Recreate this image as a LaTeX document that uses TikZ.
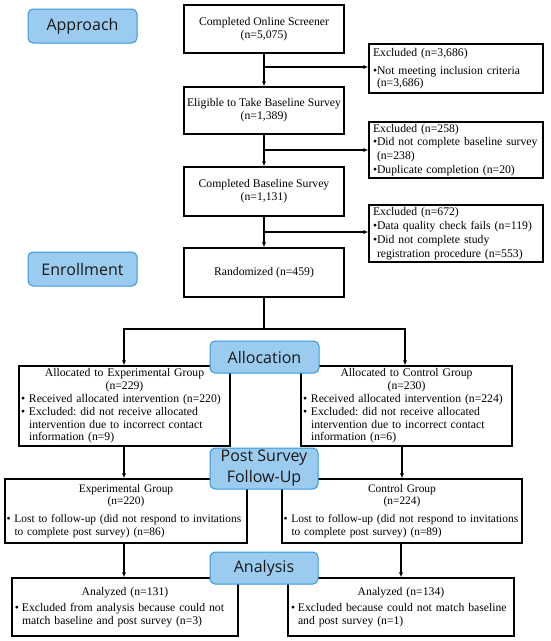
\documentclass[tikz,border=0pt]{standalone}
\usepackage{fontspec}
\setmainfont{Liberation Serif}
\newfontfamily\hdrfont{Open Sans}
\usetikzlibrary{arrows.meta}
\definecolor{hdrfill}{RGB}{155,204,239}
\definecolor{hdrline}{RGB}{52,152,219}
\tikzset{
  box/.style={draw=black, line width=1.1pt, rectangle, inner sep=0pt, font=\frenchspacing\fontsize{11.7}{12.8}\selectfont},
  exbox/.style={box, font=\frenchspacing\fontsize{11.7}{13.8}\selectfont},
  postbox/.style={box, font=\frenchspacing\fontsize{11.4}{12.2}\selectfont},
  hdr/.style={draw=hdrline, fill=hdrfill, line width=1pt, rounded corners=5pt, inner sep=0pt,
    minimum width=109pt, align=center, font=\hdrfont\fontsize{16}{21}\selectfont, text=black!90},
  arr/.style={line width=1.1pt, -{Latex[length=5pt,width=4pt]}},
  ln/.style={line width=1.1pt}
}
\newcommand{\bul}[1]{\makebox[#1][l]{\textbullet}}
\newcommand{\ctr}[1]{\makebox[\linewidth][c]{#1}}
\begin{document}
\begin{tikzpicture}[x=1pt,y=-1pt]
\useasboundingbox (0,0) rectangle (550,641);

% main column
\node[box, minimum width=160pt, minimum height=48pt, align=center] (b1) at (264,29) {Completed Online Screener\\(n=5,075)};
\node[box, minimum width=160pt, minimum height=47pt, align=center] (b2) at (264,110.5) {Eligible to Take Baseline Survey\\(n=1,389)};
\node[box, minimum width=160pt, minimum height=49pt, align=center] (b3) at (264,191.5) {Completed Baseline Survey\\(n=1,131)};
\node[box, minimum width=160pt, minimum height=49pt, align=center] (b4) at (264,272.5) {Randomized (n=459)};

% exclusion boxes
\node[exbox, minimum width=174pt, minimum height=49pt, text width=166pt, align=left] (e1) at (456,68.5)
  {Excluded (n=3,686)\\[4pt]\bul{4pt}Not meeting inclusion criteria\\[-2pt]\hspace*{4pt}(n=3,686)};
\node[exbox, minimum width=174pt, minimum height=56pt, text width=166pt, align=left] (e2) at (456,150)
  {Excluded (n=258)\\\bul{4pt}Did not complete baseline survey\\\hspace*{4pt}(n=238)\\\bul{4pt}Duplicate completion (n=20)};
\node[exbox, minimum width=174pt, minimum height=57pt, text width=166pt, align=left] (e3) at (456,233.5)
  {Excluded (n=672)\\\bul{4pt}Data quality check fails (n=119)\\\bul{4pt}Did not complete study\\\hspace*{4pt}registration procedure (n=553)};

% allocation boxes
\node[box, minimum width=211pt, minimum height=80pt, text width=207pt, align=left] (aE) at (124.5,406)
  {\ctr{Allocated to Experimental Group}\\\ctr{(n=229)}\\
   \bul{8pt}Received allocated intervention (n=220)\\
   \bul{8pt}Excluded: did not receive allocated\\
   \hspace*{8pt}intervention due to incorrect contact\\
   \hspace*{8pt}information (n=9)};
\node[box, minimum width=211pt, minimum height=80pt, text width=207pt, align=left] (aC) at (406.5,406)
  {\ctr{Allocated to Control Group}\\\ctr{(n=230)}\\
   \bul{8pt}Received allocated intervention (n=224)\\
   \bul{8pt}Excluded: did not receive allocated\\
   \hspace*{8pt}intervention due to incorrect contact\\
   \hspace*{8pt}information (n=6)};

% post survey boxes
\node[postbox, minimum width=242pt, minimum height=64pt, text width=239pt, align=left] (pE) at (126,511)
  {\ctr{Experimental Group}\\\ctr{(n=220)}\\[6pt]
   \mbox{\bul{8pt}Lost to follow-up (did not respond to invitations}\\
   \hspace*{8pt}to complete post survey) (n=86)};
\node[postbox, minimum width=240pt, minimum height=64pt, text width=237pt, align=left] (pC) at (402,511)
  {\ctr{Control Group}\\\ctr{(n=224)}\\[6pt]
   \mbox{\bul{8pt}Lost to follow-up (did not respond to invitations}\\
   \hspace*{8pt}to complete post survey) (n=89)};

% analysis boxes
\node[box, minimum width=226pt, minimum height=58pt, text width=220pt, align=left] (nE) at (125,607)
  {\ctr{Analyzed (n=131)}\\[4pt]
   \bul{7pt}Excluded from analysis because could not\\
   \hspace*{7pt}match baseline and post survey (n=3)};
\node[box, minimum width=226pt, minimum height=58pt, text width=220pt, align=left] (nC) at (401,607)
  {\ctr{Analyzed (n=134)}\\[4pt]
   \bul{7pt}Excluded because could not match baseline\\
   \hspace*{7pt}and post survey (n=1)};

% headers
\node[hdr, minimum height=34pt] (hA) at (82.5,26) {Approach};
\node[hdr, minimum height=34pt] (hE) at (82.5,269) {Enrollment};
\node[hdr, minimum height=32pt] (hL) at (264.5,357) {Allocation};
\node[hdr, minimum height=41pt, minimum width=108pt] (hP) at (264,468.5) {Post Survey\\Follow-Up};
\node[hdr, minimum height=32pt, minimum width=108pt] (hN) at (264,568) {Analysis};

% connectors main column
\draw[arr] (b1) -- (b2);
\draw[arr] (b2) -- (b3);
\draw[arr] (b3) -- (b4);
\coordinate (s1) at (264,67);
\coordinate (s2) at (264,150);
\coordinate (s3) at (264,232);
\draw[arr] (s1) -- (s1 -| e1.west);
\draw[arr] (s2) -- (s2 -| e2.west);
\draw[arr] (s3) -- (s3 -| e3.west);

% split to allocation
\coordinate (sp) at (264,329);
\coordinate (spE) at (124,329);
\coordinate (spC) at (405,329);
\draw[ln] (b4.south) -- (sp);
\draw[arr] (sp) -- (spE) -- (spE |- aE.north);
\draw[arr] (sp) -- (spC) -- (spC |- aC.north);

% to post survey
\coordinate (qE) at (124,446);
\coordinate (qC) at (402,446);
\draw[arr] (qE) -- (qE |- pE.north);
\draw[arr] (qC) -- (qC |- pC.north);

% to analysis
\coordinate (rE) at (124,543);
\coordinate (rC) at (401,543);
\draw[arr] (rE) -- (rE |- nE.north);
\draw[arr] (rC) -- (rC |- nC.north);
\end{tikzpicture}
\end{document}
